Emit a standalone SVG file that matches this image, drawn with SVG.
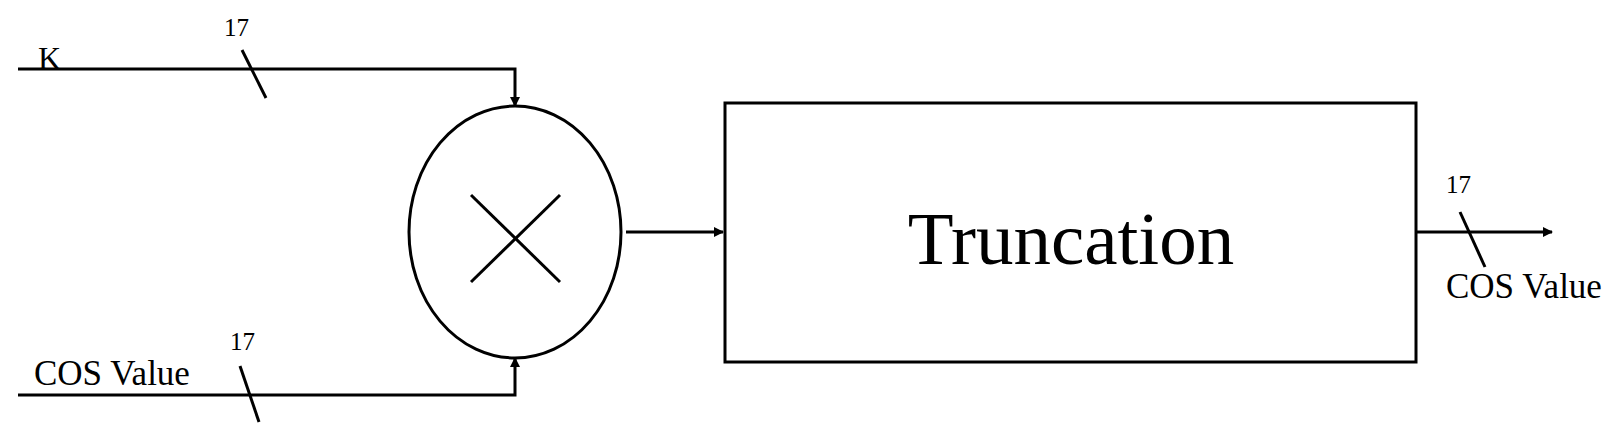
<svg xmlns="http://www.w3.org/2000/svg" width="1621" height="438" viewBox="0 0 1621 438">
<style>
.l{stroke:#000;stroke-width:3;fill:none}
.t{font-family:"Liberation Serif",serif;fill:#000}
</style>
<defs><marker id="a" markerWidth="10" markerHeight="10" refX="9" refY="5" orient="auto" markerUnits="userSpaceOnUse"><path d="M0,0 L10,5 L0,10 z" fill="#000"/></marker></defs>
<rect width="1621" height="438" fill="#fff"/>
<g id="connectors">
<polyline class="l" points="18,69 515,69 515,106" marker-end="url(#a)"/>
<line class="l" x1="242" y1="50" x2="266" y2="98"/>
<text class="t" x="224" y="36" font-size="25">17</text>
<text class="t" x="38" y="69" font-size="32">K</text>
<polyline class="l" points="18,395 515,395 515,358" marker-end="url(#a)"/>
<line class="l" x1="240" y1="366" x2="259" y2="422"/>
<text class="t" x="230" y="350" font-size="25">17</text>
<text class="t" x="34" y="385" font-size="35">COS Value</text>
<line class="l" x1="626" y1="232" x2="723" y2="232" marker-end="url(#a)"/>
<line class="l" x1="1416" y1="232" x2="1552" y2="232" marker-end="url(#a)"/>
<line class="l" x1="1460" y1="212" x2="1485" y2="267"/>
<text class="t" x="1446" y="193" font-size="25">17</text>
<text class="t" x="1446" y="298" font-size="35">COS Value</text>
</g>
<g id="mult">
<ellipse class="l" cx="515" cy="232" rx="106" ry="126"/>
<line class="l" x1="471" y1="195" x2="560" y2="282"/>
<line class="l" x1="560" y1="195" x2="471" y2="282"/>
</g>
<g id="trunc">
<rect class="l" x="725" y="103" width="691" height="259"/>
<text class="t" x="1071" y="264" font-size="75" text-anchor="middle">Truncation</text>
</g>
</svg>
